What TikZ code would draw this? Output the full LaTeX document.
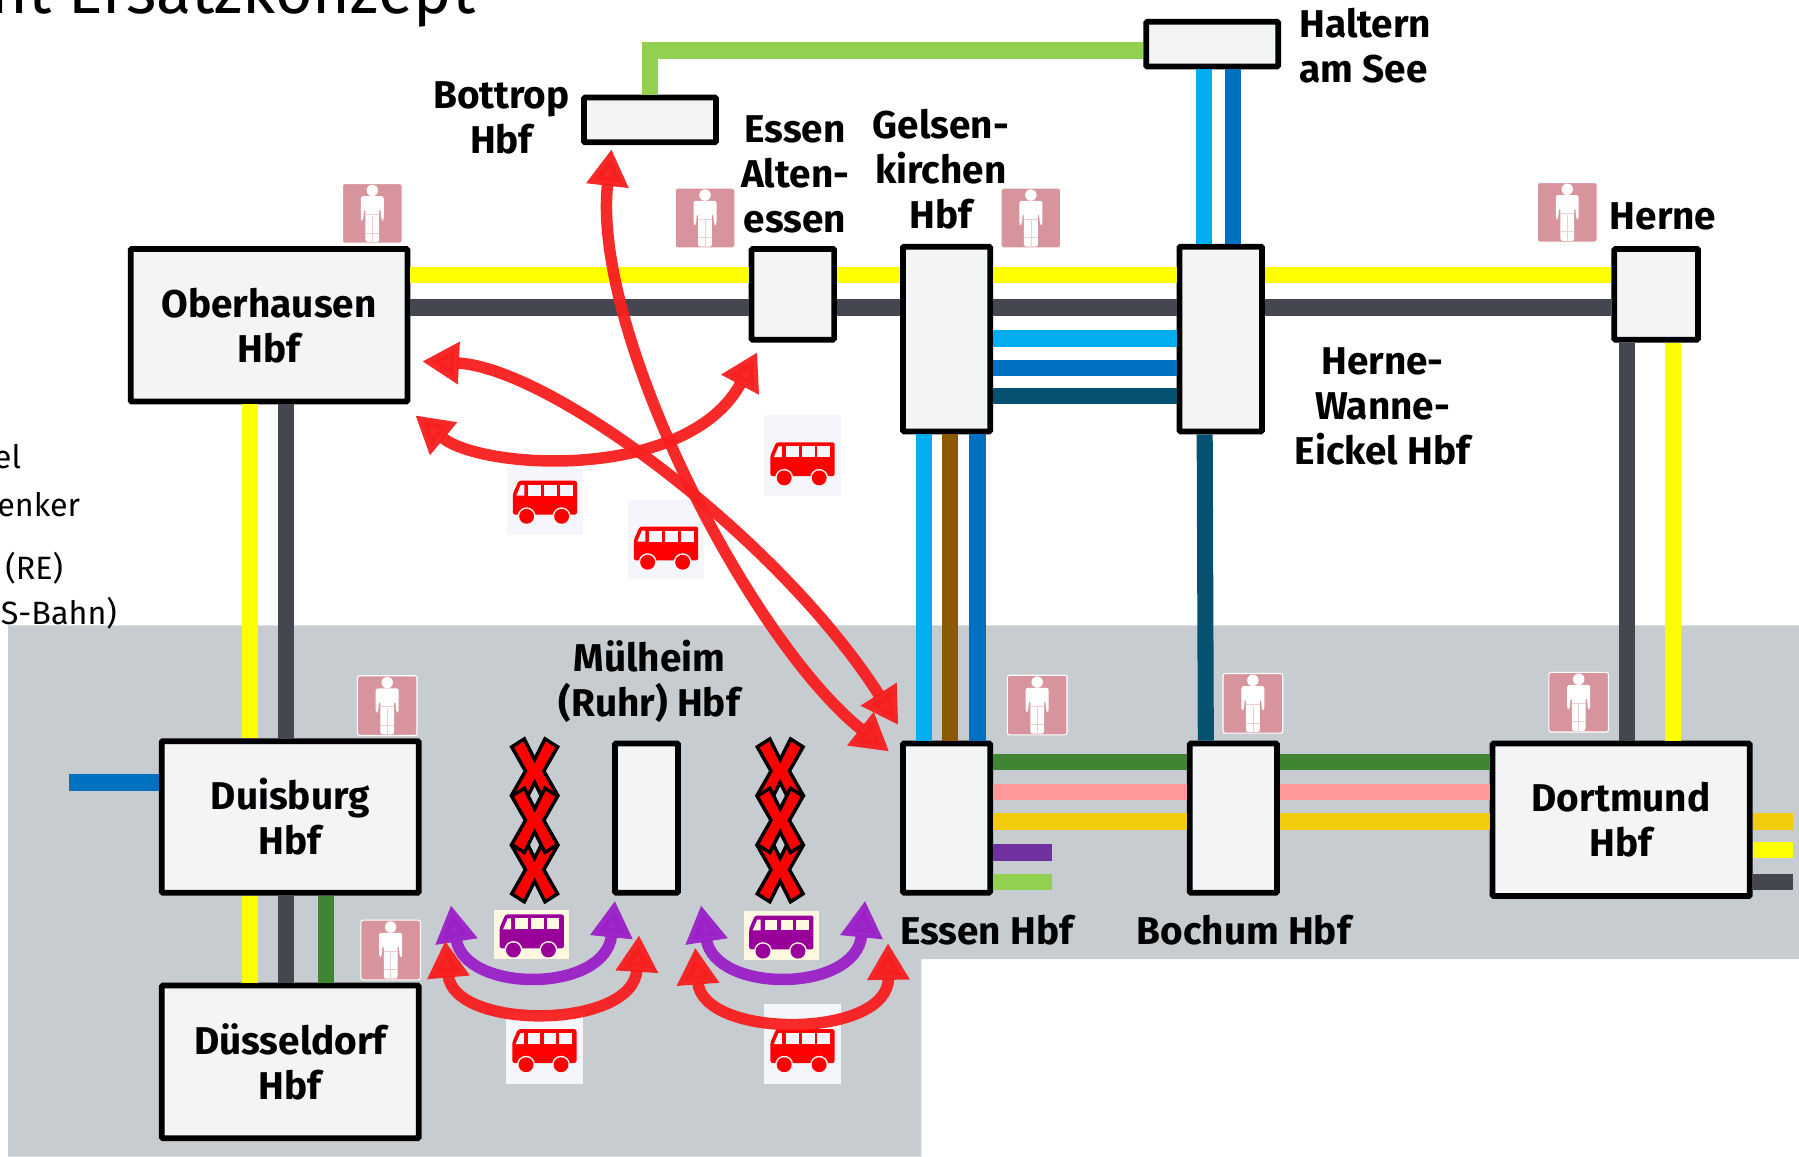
\documentclass[tikz,border=0pt]{standalone}
\usepackage{fontspec}
\setmainfont{Fira Sans}
\usetikzlibrary{arrows.meta}

\definecolor{areagrey}{HTML}{C7CCD0}
\definecolor{boxfill}{HTML}{F3F4F6}
\definecolor{trackyellow}{HTML}{FFFF00}
\definecolor{trackdark}{HTML}{44474F}
\definecolor{trackcyan}{HTML}{00AEEF}
\definecolor{trackblue}{HTML}{0070C0}
\definecolor{trackteal}{HTML}{05516F}
\definecolor{trackbrown}{HTML}{8B5A00}
\definecolor{trackgreen}{HTML}{3F8534}
\definecolor{tracklime}{HTML}{92D050}
\definecolor{trackpink}{HTML}{FF9999}
\definecolor{trackamber}{HTML}{F2CC0C}
\definecolor{trackpurple}{HTML}{7030A0}
\definecolor{personpink}{HTML}{D8949C}
\definecolor{busred}{HTML}{FF0000}
\definecolor{busbg}{HTML}{F4F6FC}
\definecolor{buspurple}{HTML}{990099}
\definecolor{buscream}{HTML}{FFF8E1}
\definecolor{arrowred}{HTML}{F81E1E}
\definecolor{arrowpurple}{HTML}{9B20C8}

\tikzset{
	pics/personicon/.style={code={
		\fill[personpink, draw=white, line width=0.01cm, rounded corners=0.02cm] (-26,-26) rectangle (26,26);
		\fill[white] (0,-20) circle (5);
		\fill[white, rounded corners=0.02cm] (-10,-15) -- (10,-15) -- (10,6) -- (8,6) -- (7,-4) -- (6,-4) -- (6,25) -- (-6,25) -- (-6,-4) -- (-7,-4) -- (-8,6) -- (-10,6) -- cycle;
		\draw[personpink!45, line width=0.005cm] (-6,1) -- (6,1) (-6,17) -- (6,17) (0,2) -- (0,25);
	}},
	pics/busicon/.style 2 args={code={
		\fill[#1, rounded corners=0.02cm] (-23,-14.5) -- (28,-14.5) -- (28,15) -- (-28,15) -- (-28,-3) -- cycle;
		\fill[#2] (-25,-1.5) -- (-21,-11) -- (-18,-11) -- (-18,-1.5) -- cycle;
		\foreach \xa in {-14.5,-0.5,13}
			\fill[#2] (\xa,-11) rectangle ++(11,9.5);
		\foreach \xb in {-16,14.5} {
			\fill[#2] (\xb,16.5) circle (7.8);
			\fill[#1] (\xb,16.5) circle (6.5);
		}
	}},
	pics/crossmark/.style={code={
		\draw[fill=red, draw=black, line width=0.03cm] (-20,-21) -- (-9,-28) -- (0,-10) -- (9,-28) -- (20,-21) -- (8,0) -- (20,21) -- (9,28) -- (0,10) -- (-9,28) -- (-20,21) -- (-8,0) -- cycle;
	}}
}

\begin{document}
\begin{tikzpicture}[
	x=0.01cm, y=-0.01cm,
	station/.style={rectangle, draw=black, fill=boxfill, line width=0.05cm, rounded corners=0.01cm, inner sep=0pt, align=center, font=\fontsize{9.6}{11.1}\selectfont\bfseries},
	stationlabel/.style={inner sep=0pt, align=center, font=\fontsize{9.6}{11.1}\selectfont\bfseries},
	sidetext/.style={inner sep=0pt, anchor=base west, font=\fontsize{8}{9.6}\selectfont},
	track/.style={line width=0.14cm},
	shuttle/.style={{Triangle[length=0.32cm,width=0.35cm]}-{Triangle[length=0.32cm,width=0.35cm]}, line width=0.1cm, draw=arrowred, fill=none, opacity=0.95},
	localbus/.style={shuttle, draw=arrowpurple}
	]
	
	\useasboundingbox (0,0) rectangle (1568,1008);
	\clip (0,0) rectangle (1568,1008);
	
	% Grey area
	\fill[areagrey] (7,545) -- (1568,545) -- (1568,836) -- (803,836) -- (803,1008) -- (7,1008) -- cycle;
	
	% Cut off texts
	\node[anchor=base east, inner sep=0pt, font=\fontsize{16}{19}\selectfont] (heading) at (415,12) {nt Ersatzkonzept};
	\node[sidetext] (side1) at (-6,408) {el};
	\node[sidetext] (side2) at (-3,450) {enker};
	\node[sidetext] (side3) at (4,505) {(RE)};
	\node[sidetext] (side4) at (0,544) {S-Bahn)};
	
	% Stations
	\node[station, minimum width=2.41cm, minimum height=1.33cm] (ober) at (234.5,283.5) {Oberhausen\\Hbf};
	\node[station, minimum width=2.24cm, minimum height=1.32cm] (duis) at (253,712) {Duisburg\\Hbf};
	\node[station, minimum width=2.24cm, minimum height=1.33cm] (duess) at (253,925.5) {Düsseldorf\\Hbf};
	\node[station, minimum width=0.55cm, minimum height=1.3cm] (muel) at (563.5,713) {};
	\node[station, minimum width=0.76cm, minimum height=1.3cm] (essen) at (825,713) {};
	\node[station, minimum width=0.76cm, minimum height=1.3cm] (bochum) at (1075,713) {};
	\node[station, minimum width=2.24cm, minimum height=1.33cm] (dort) at (1413,714.5) {Dortmund\\Hbf};
	\node[station, minimum width=0.72cm, minimum height=0.79cm] (alten) at (691,256.5) {};
	\node[station, minimum width=0.76cm, minimum height=1.61cm] (gelsen) at (825,295.5) {};
	\node[station, minimum width=0.72cm, minimum height=1.61cm] (wanne) at (1064,295.5) {};
	\node[station, minimum width=0.73cm, minimum height=0.79cm] (herne) at (1443.5,256.5) {};
	\node[station, minimum width=1.15cm, minimum height=0.39cm] (bottrop) at (566.5,104.5) {};
	\node[station, minimum width=1.15cm, minimum height=0.39cm] (haltern) at (1056.5,38.5) {};
	
	% Station labels
	\node[stationlabel] (lessen) at (860,811) {Essen Hbf};
	\node[stationlabel] (lbochum) at (1084,811) {Bochum Hbf};
	\node[stationlabel] (lmuel) at (566,594) {Mülheim\\(Ruhr) Hbf};
	\node[stationlabel] (lbottrop) at (437,102.5) {Bottrop\\Hbf};
	\node[stationlabel] (lalten) at (693,152) {Essen\\Alten-\\essen};
	\node[stationlabel] (lgelsen) at (820,147.5) {Gelsen-\\kirchen\\Hbf};
	\node[stationlabel] (lherne) at (1449.5,189) {Herne};
	\node[stationlabel] (lwanne) at (1205,354) {Herne-\\Wanne-\\Eickel Hbf};
	\node[stationlabel, align=left] (lhaltern) at (1190,39.5) {Haltern\\am See};
	
	% Oberhausen to Herne
	\foreach \a/\b in {ober/alten,alten/gelsen,gelsen/wanne,wanne/herne} {
		\draw[track, trackyellow] (\a.east |- 0,240) -- (\b.west |- 0,240);
		\draw[track, trackdark] (\a.east |- 0,268) -- (\b.west |- 0,268);
	}
	
	% Gelsenkirchen to Wanne-Eickel
	\foreach \y/\c in {295/trackcyan,321/trackblue,345/trackteal}
		\draw[track, \c] (gelsen.east |- 0,\y) -- (wanne.west |- 0,\y);
	
	% Oberhausen to Duisburg to Duesseldorf
	\foreach \x/\c in {218/trackyellow,249/trackdark} {
		\draw[track, \c] (ober.south -| \x,0) -- (duis.north -| \x,0);
		\draw[track, \c] (duis.south -| \x,0) -- (duess.north -| \x,0);
	}
	\draw[track, trackgreen] (duis.south -| 284,0) -- (duess.north -| 284,0);
	\coordinate (duisstub) at (60,682);
	\draw[track, trackblue] (duisstub) -- (duis.west |- duisstub);
	
	% Gelsenkirchen to Essen
	\foreach \x/\c in {805/trackcyan,828/trackbrown,852/trackblue}
		\draw[track, \c] (gelsen.south -| \x,0) -- (essen.north -| \x,0);
	
	% Wanne-Eickel to Bochum, Herne to Dortmund, Haltern
	\draw[track, trackteal] (wanne.south -| 1050,0) -- (bochum.north -| 1051,0);
	\foreach \x/\c in {1418/trackdark,1458/trackyellow}
		\draw[track, \c] (herne.south -| \x,0) -- (dort.north -| \x,0);
	\foreach \x/\c in {1049/trackcyan,1075/trackblue}
		\draw[track, \c] (haltern.south -| \x,0) -- (wanne.north -| \x,0);
	\draw[track, tracklime] (bottrop.north) |- (haltern.west |- 0,44);
	
	% Essen to Bochum to Dortmund
	\foreach \y/\c in {664/trackgreen,690/trackpink,716/trackamber} {
		\draw[track, \c] (essen.east |- 0,\y) -- (bochum.west |- 0,\y);
		\draw[track, \c] (bochum.east |- 0,\y) -- (dort.west |- 0,\y);
	}
	
	% Short ends
	\coordinate (essenstub1) at (917,743);
	\coordinate (essenstub2) at (917,769);
	\draw[track, trackpurple] (essen.east |- essenstub1) -- (essenstub1);
	\draw[track, tracklime] (essen.east |- essenstub2) -- (essenstub2);
	\coordinate (dortstub1) at (1563,716);
	\coordinate (dortstub2) at (1563,741);
	\coordinate (dortstub3) at (1563,769);
	\draw[track, trackamber] (dort.east |- dortstub1) -- (dortstub1);
	\draw[track, trackyellow] (dort.east |- dortstub2) -- (dortstub2);
	\draw[track, trackdark] (dort.east |- dortstub3) -- (dortstub3);
	
	% Persons
	\foreach \n/\x/\y in {p1/324.5/186,p2/614.5/190,p3/898.5/190,p4/1366/185,p5/337.5/615,p6/340.5/828,p7/904/614.5,p8/1092/613,p9/1376/612}
		\pic (\n) at (\x,\y) {personicon};
	
	% Red buses
	\foreach \n/\x/\y/\w/\h/\cy in {b1/475/435.5/0.66/0.61/433.5,b2/580.5/470.5/0.67/0.69/473.5,b3/699.5/397/0.67/0.7/400,b4/474.5/914/0.67/0.62/911.5,b5/699.5/910/0.67/0.7/911.5} {
		\node[fill=busbg, inner sep=0pt, minimum width=\w cm, minimum height=\h cm] (\n) at (\x,\y) {};
		\pic at (\x,\cy) {busicon={busred}{busbg}};
	}
	
	% Purple buses
	\foreach \n/\x/\y/\cy in {v1/463.5/814.5/811.5,v2/681/815.5/812.5} {
		\node[fill=buscream, inner sep=0pt, minimum width=0.65cm, minimum height=0.43cm] (\n) at (\x,\y) {};
		\pic at (\x,\cy) {busicon={buspurple}{buscream}};
	}
	
	% Closed sections
	\foreach \x in {466,680} {
		\pic at (\x,672) {crossmark};
		\pic at (\x,758) {crossmark};
		\pic at (\x,715) {crossmark};
	}
	
	% Shuttle ends
	\coordinate (oberupper) at (368,315);
	\coordinate (essenupper) at (783,632);
	\coordinate (bottroptip) at (533,130);
	\coordinate (essenlower) at (775,655);
	\coordinate (oberlower) at (362,362);
	\coordinate (altentip) at (660,307);
	\coordinate (pl1) at (393,789);
	\coordinate (pl2) at (536,785);
	\coordinate (pr1) at (611,789);
	\coordinate (pr2) at (754,785);
	\coordinate (rl1) at (388,820);
	\coordinate (rl2) at (557,815);
	\coordinate (rr1) at (606,826);
	\coordinate (rr2) at (774,822);
	
	% Shuttle buses
	\draw[shuttle] (oberupper) .. controls (480,320) and (680,470) .. (essenupper);
	\draw[shuttle] (bottroptip) .. controls (515,290) and (655,560) .. (essenlower);
	\draw[shuttle] (oberlower) .. controls (420,410) and (600,420) .. (altentip);
	\draw[localbus] (pl1) .. controls (405,866) and (528,866) .. (pl2);
	\draw[localbus] (pr1) .. controls (623,866) and (746,866) .. (pr2);
	\draw[shuttle] (rl1) .. controls (395,898) and (552,898) .. (rl2);
	\draw[shuttle] (rr1) .. controls (612,906) and (775,906) .. (rr2);
	
\end{tikzpicture}
\end{document}
